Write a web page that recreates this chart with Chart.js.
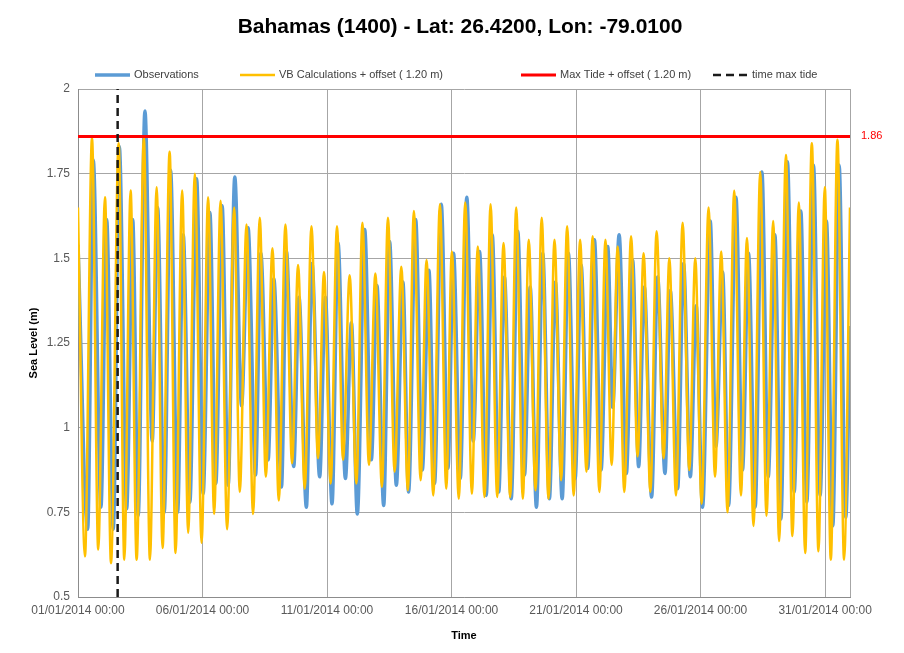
<!DOCTYPE html>
<html><head><meta charset="utf-8">
<script src="https://cdn.jsdelivr.net/npm/chart.js@4/dist/chart.umd.min.js"></script>
<style>html,body{margin:0;padding:0;background:#fff;}canvas{display:block;}</style>
</head><body>
<canvas id="c" width="904" height="653"></canvas>
<script>
// ---- DATA ----
const chartTitle = 'Bahamas (1400) - Lat: 26.4200, Lon: -79.0100';
const seriesNames = ['Observations', 'VB Calculations + offset ( 1.20 m)', 'Max Tide + offset ( 1.20 m)', 'time max tide'];
const xTickHours = [0, 120, 240, 360, 480, 600, 720];
const xTickLabels = ['01/01/2014 00:00', '06/01/2014 00:00', '11/01/2014 00:00', '16/01/2014 00:00', '21/01/2014 00:00', '26/01/2014 00:00', '31/01/2014 00:00'];
const xEndHour = 744;
const yTickValues = [0.5, 0.75, 1, 1.25, 1.5, 1.75, 2];
const yTickLabels = ['0.5', '0.75', '1', '1.25', '1.5', '1.75', '2'];

// hours since 01/01/2014 00:00 and sea level (m), highs and lows
const obsHours = [0,9.3,14.7,22.1,27.6,34.0,39.8,46.9,52.7,58.0,64.5,71.5,76.7,83.1,89.2,96.0,101.4,107.8,114.3,120.6,127.1,132.8,138.9,144.7,151.1,157.6,163.9,171.1,176.2,183.2,188.7,196.1,200.9,207.9,213.0,220.1,225.5,232.9,238.4,244.8,250.6,257.7,263.5,269.2,276.3,282.7,288.1,294.6,300.3,306.8,313.1,318.6,325.4,331.8,338.2,343.6,350.1,356.5,361.9,368.4,374.7,380.9,387.0,393.4,399.2,405.5,411.0,417.5,423.8,430.3,435.8,441.8,447.9,454.3,460.1,466.6,472.6,479.1,484.9,491.2,497.7,504.1,510.5,515.3,521.5,528.5,534.5,540.3,545.8,552.8,558.6,565.7,570.8,577.9,583.6,590.1,595.8,601.9,609.3,614.8,621.2,627.0,634.1,640.4,646.2,652.6,659.1,665.2,671.6,677.4,683.7,690.2,696.6,702.4,708.8,715.2,721.3,727.4,733.5,739.9,744];
const obsLevel = [1.54,0.70,1.79,0.765,1.615,0.70,1.83,0.76,1.615,0.74,1.935,0.96,1.65,0.75,1.76,0.75,1.57,0.78,1.735,0.805,1.635,0.835,1.655,0.83,1.74,1.065,1.59,0.86,1.515,0.905,1.44,0.825,1.52,0.885,1.385,0.765,1.485,0.855,1.385,0.775,1.545,0.85,1.31,0.745,1.585,0.905,1.42,0.77,1.55,0.83,1.43,0.81,1.615,0.875,1.465,0.835,1.66,0.88,1.515,0.85,1.68,0.96,1.52,0.80,1.57,0.81,1.445,0.79,1.58,0.86,1.415,0.765,1.515,0.79,1.43,0.79,1.515,0.85,1.48,0.88,1.555,0.875,1.535,1.06,1.57,0.865,1.495,0.885,1.415,0.795,1.445,0.865,1.405,0.82,1.485,0.855,1.36,0.765,1.61,0.945,1.46,0.77,1.68,0.875,1.515,0.765,1.755,0.855,1.57,0.73,1.785,0.81,1.64,0.78,1.775,0.80,1.61,0.71,1.775,0.735,1.30];

const vbHours = [0,6.7,13.5,19.5,26.0,31.8,39.2,44.6,50.7,56.5,63.5,69.3,75.8,81.5,88.3,94.0,100.4,106.2,112.6,119.1,125.4,131.2,137.4,143.7,150.5,155.9,162.4,168.7,175.2,181.0,187.4,193.5,199.9,206.3,212.1,218.5,225.0,231.3,237.1,243.5,249.6,255.4,261.8,268.3,274.1,280.4,286.6,292.9,298.7,305.1,311.6,317.9,323.7,330.2,335.9,342.4,348.8,354.9,360.3,367.0,373.2,379.6,385.3,391.8,397.6,404.0,410.1,416.5,422.3,428.7,434.4,440.9,446.9,453.4,459.2,465.6,471.4,477.7,483.9,490.0,496.0,502.5,508.3,514.3,520.1,526.5,533.0,539.3,545.1,551.6,557.6,564.4,569.9,576.3,582.7,589.1,594.9,601.0,607.7,613.9,619.9,626.0,632.4,638.9,644.7,651.0,657.5,663.5,670.0,675.7,682.2,688.5,694.7,700.8,707.2,713.6,719.7,725.5,731.9,738.3,744];
const vbLevel = [1.65,0.62,1.855,0.64,1.68,0.60,1.84,0.61,1.70,0.61,1.855,0.61,1.71,0.645,1.815,0.63,1.70,0.69,1.75,0.66,1.68,0.745,1.67,0.70,1.65,0.81,1.60,0.745,1.62,0.855,1.53,0.785,1.60,0.895,1.48,0.82,1.595,0.91,1.46,0.835,1.595,0.905,1.45,0.835,1.605,0.89,1.455,0.825,1.62,0.87,1.475,0.815,1.64,0.845,1.495,0.80,1.66,0.82,1.52,0.79,1.665,0.805,1.535,0.795,1.66,0.795,1.545,0.795,1.65,0.79,1.555,0.815,1.62,0.79,1.555,0.845,1.595,0.80,1.555,0.87,1.565,0.81,1.555,0.89,1.535,0.81,1.565,0.915,1.515,0.81,1.58,0.91,1.50,0.80,1.605,0.875,1.50,0.775,1.65,0.855,1.52,0.75,1.70,0.80,1.56,0.71,1.755,0.74,1.61,0.665,1.805,0.68,1.665,0.63,1.84,0.635,1.71,0.61,1.85,0.61,1.65];

const maxTideLevel = 1.86;
const maxTideHour = 38.2;

// ---- BUILD ----
const toPoints = (xs, ys) => xs.map((x, i) => ({x: x, y: ys[i]}));
const FONT = '"Liberation Sans", Arial, sans-serif';

const colors = {obs: '#5b9bd5', vb: '#ffc000', max: '#ff0000', time: '#1a1a1a'};

const decorations = {
  id: 'decorations',
  afterDraw(chart) {
    const {ctx, chartArea, scales} = chart;
    ctx.save();
    // title
    ctx.fillStyle = '#000';
    ctx.font = 'bold 21px ' + FONT;
    ctx.textAlign = 'center';
    ctx.textBaseline = 'middle';
    ctx.fillText(chartTitle, 460, 27);
    // legend
    const items = [
      {x: 95, color: colors.obs, w: 3.5, dash: [], text: seriesNames[0]},
      {x: 240, color: colors.vb, w: 2.5, dash: [], text: seriesNames[1]},
      {x: 521, color: colors.max, w: 3, dash: [], text: seriesNames[2]},
      {x: 713, color: colors.time, w: 2.5, dash: [8, 5], text: seriesNames[3]}
    ];
    const ly = 75;
    ctx.font = '11px ' + FONT;
    ctx.textAlign = 'left';
    items.forEach(it => {
      ctx.beginPath();
      ctx.strokeStyle = it.color;
      ctx.lineWidth = it.w;
      ctx.setLineDash(it.dash);
      ctx.moveTo(it.x, ly);
      ctx.lineTo(it.x + 35, ly);
      ctx.stroke();
      ctx.setLineDash([]);
      ctx.fillStyle = '#404040';
      ctx.fillText(it.text, it.x + 39, ly);
    });
    // max tide value label
    const yv = scales.y.getPixelForValue(maxTideLevel);
    ctx.fillStyle = colors.max;
    ctx.font = '11px ' + FONT;
    ctx.fillText(maxTideLevel.toFixed(2), chartArea.right + 11, yv);
    ctx.restore();
  }
};

new Chart(document.getElementById('c'), {
  type: 'line',
  data: {
    datasets: [
      {label: seriesNames[0], data: toPoints(obsHours, obsLevel), borderColor: colors.obs, borderWidth: 3.5, pointRadius: 0, cubicInterpolationMode: 'monotone', order: 3},
      {label: seriesNames[1], data: toPoints(vbHours, vbLevel), borderColor: colors.vb, borderWidth: 2.5, pointRadius: 0, cubicInterpolationMode: 'monotone', order: 2},
      {label: seriesNames[2], data: [{x: 0, y: maxTideLevel}, {x: xEndHour, y: maxTideLevel}], borderColor: colors.max, borderWidth: 3, pointRadius: 0, order: 1},
      {label: seriesNames[3], data: [{x: maxTideHour, y: yTickValues[0]}, {x: maxTideHour, y: yTickValues[yTickValues.length - 1]}], borderColor: colors.time, borderWidth: 2.5, borderDash: [8, 5], pointRadius: 0, order: 0}
    ]
  },
  options: {
    responsive: false,
    animation: false,
    devicePixelRatio: 1,
    layout: {padding: {top: 89, right: 54, left: 0, bottom: 0}},
    plugins: {legend: {display: false}, title: {display: false}, tooltip: {enabled: false}},
    scales: {
      x: {
        type: 'linear', min: 0, max: xEndHour,
        afterBuildTicks: s => { s.ticks = xTickHours.concat([xEndHour]).map(v => ({value: v})); },
        afterFit: s => { s.height = 56; },
        ticks: {
          autoSkip: false, maxRotation: 0, minRotation: 0, padding: 6,
          color: '#595959', font: {family: FONT, size: 12},
          callback: v => { const i = xTickHours.indexOf(v); return i >= 0 ? xTickLabels[i] : ''; }
        },
        grid: {color: '#a6a6a6', lineWidth: 1, drawTicks: false},
        border: {color: '#8c8c8c'},
        title: {display: true, text: 'Time', color: '#000', font: {family: FONT, size: 11, weight: 'bold'}, padding: {top: 0, bottom: 10}}
      },
      y: {
        min: 0.5, max: 2,
        afterBuildTicks: s => { s.ticks = yTickValues.map(v => ({value: v})); },
        afterFit: s => { s.width = 78; },
        ticks: {
          padding: 8, color: '#595959', font: {family: FONT, size: 12},
          callback: v => { const i = yTickValues.indexOf(v); return i >= 0 ? yTickLabels[i] : ''; }
        },
        grid: {color: '#a6a6a6', lineWidth: 1, drawTicks: false},
        border: {color: '#8c8c8c'},
        title: {display: true, text: 'Sea Level (m)', color: '#000', font: {family: FONT, size: 11, weight: 'bold'}, padding: {top: 27, bottom: 0}}
      }
    }
  },
  plugins: [decorations]
});
</script>
</body></html>
